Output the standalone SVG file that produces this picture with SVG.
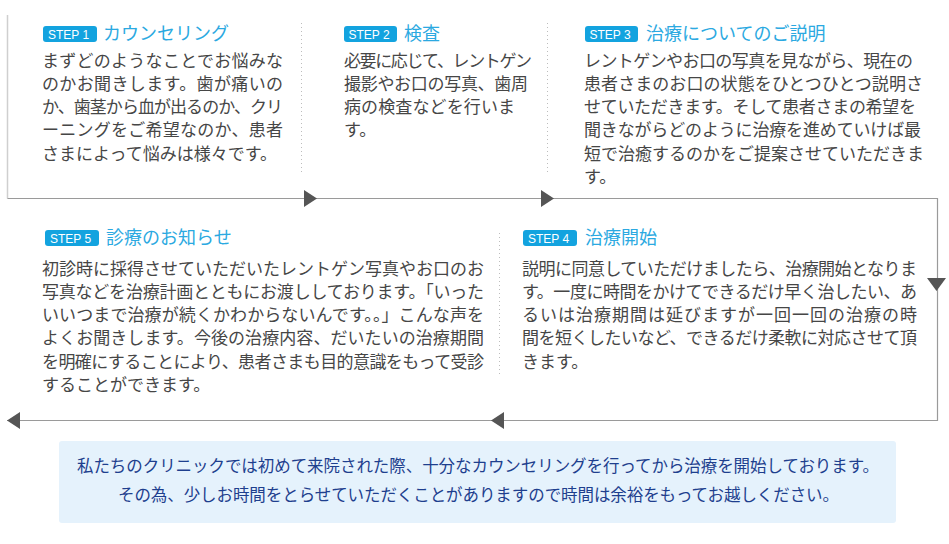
<svg xmlns="http://www.w3.org/2000/svg" width="949" height="544" viewBox="0 0 949 544">
<style>
.body{font-family:"Noto Sans CJK JP","Noto Sans CJK SC",sans-serif;font-size:17px;fill:#464646}
.title{font-family:"Noto Sans CJK JP","Noto Sans CJK SC",sans-serif;font-size:18px;fill:#2ba9e1}
.badge{fill:#13a3df}
.badgetxt{font-family:"Liberation Sans","Noto Sans",sans-serif;font-size:12px;fill:#fff}
.sep{stroke:#bdbdbd;stroke-width:1;stroke-dasharray:1 3;fill:none}
.line{stroke:#9a9a9a;stroke-width:1.2;fill:none}
.line2{stroke:#cfcfcf;stroke-width:1.5;fill:none}
.arr{fill:#555}
.foot{font-family:"Noto Sans CJK JP","Noto Sans CJK SC",sans-serif;font-size:16.5px;fill:#1e3f8e}
</style>
<rect width="949" height="544" fill="#fff"/>
<g id="connectors">
<path class="line2" d="M7.5,15 V198.5"/>
<path class="line" d="M7.5,198.5 H937.5 V420.5 H7"/>
<polygon class="arr" points="304,190 304,207 317,198.5"/>
<polygon class="arr" points="541,190 541,207 554,198.5"/>
<polygon class="arr" points="927,278 946,278 936.5,291"/>
<polygon class="arr" points="504,412 504,429 491,420.5"/>
<polygon class="arr" points="20,412 20,429 7,420.5"/>
<path class="sep" d="M301.5,23 V172 M547.5,23 V172 M499.5,233 V375"/>
</g>
<g id="step1">
<rect class="badge" x="43" y="26" width="54" height="16" rx="3"/>
<text class="badgetxt" x="48" y="38.5">STEP 1</text>
<text class="title" x="103" y="40">カウンセリング</text>
<text class="body" x="42" y="66.5" textLength="241" lengthAdjust="spacing">まずどのようなことでお悩みな</text>
<text class="body" x="42" y="89.8" textLength="241" lengthAdjust="spacing">のかお聞きします。歯が痛いの</text>
<text class="body" x="42" y="113.1" textLength="241" lengthAdjust="spacing">か、歯茎から血が出るのか、クリ</text>
<text class="body" x="42" y="136.4" textLength="241" lengthAdjust="spacing">ーニングをご希望なのか、患者</text>
<text class="body" x="42" y="159.7">さまによって悩みは様々です。</text>
</g>
<g id="step2">
<rect class="badge" x="344" y="26" width="53" height="16" rx="3"/>
<text class="badgetxt" x="348.5" y="38.5">STEP 2</text>
<text class="title" x="404" y="40">検査</text>
<text class="body" x="344" y="66.5" textLength="188" lengthAdjust="spacing">必要に応じて、レントゲン</text>
<text class="body" x="344" y="89.8" textLength="184" lengthAdjust="spacing">撮影やお口の写真、歯周</text>
<text class="body" x="344" y="113.1" textLength="171" lengthAdjust="spacing">病の検査などを行いま</text>
<text class="body" x="344" y="136.4">す。</text>
</g>
<g id="step3">
<rect class="badge" x="585" y="26" width="53" height="16" rx="3"/>
<text class="badgetxt" x="589.5" y="38.5">STEP 3</text>
<text class="title" x="646" y="40">治療についてのご説明</text>
<text class="body" x="584" y="66.5" textLength="329" lengthAdjust="spacing">レントゲンやお口の写真を見ながら、現在の</text>
<text class="body" x="584" y="89.8" textLength="339" lengthAdjust="spacing">患者さまのお口の状態をひとつひとつ説明さ</text>
<text class="body" x="584" y="113.1" textLength="332" lengthAdjust="spacing">せていただきます。そして患者さまの希望を</text>
<text class="body" x="584" y="136.4" textLength="337" lengthAdjust="spacing">聞きながらどのように治療を進めていけば最</text>
<text class="body" x="584" y="159.7" textLength="340" lengthAdjust="spacing">短で治癒するのかをご提案させていただきま</text>
<text class="body" x="584" y="183">す。</text>
</g>
<g id="step4">
<rect class="badge" x="523" y="230" width="54" height="16" rx="3"/>
<text class="badgetxt" x="528" y="242.5">STEP 4</text>
<text class="title" x="585" y="244">治療開始</text>
<text class="body" x="522" y="274.5" textLength="395" lengthAdjust="spacing">説明に同意していただけましたら、治療開始となりま</text>
<text class="body" x="522" y="297.8" textLength="395" lengthAdjust="spacing">す。一度に時間をかけてできるだけ早く治したい、あ</text>
<text class="body" x="522" y="321.1" textLength="395" lengthAdjust="spacing">るいは治療期間は延びますが一回一回の治療の時</text>
<text class="body" x="522" y="344.4" textLength="395" lengthAdjust="spacing">間を短くしたいなど、できるだけ柔軟に対応させて頂</text>
<text class="body" x="522" y="367.7">きます。</text>
</g>
<g id="step5">
<rect class="badge" x="45" y="230" width="54" height="16" rx="3"/>
<text class="badgetxt" x="50" y="242.5">STEP 5</text>
<text class="title" x="106" y="244">診療のお知らせ</text>
<text class="body" x="42" y="274.5" textLength="442" lengthAdjust="spacing">初診時に採得させていただいたレントゲン写真やお口のお</text>
<text class="body" x="42" y="297.8" textLength="442" lengthAdjust="spacing">写真などを治療計画とともにお渡ししております。「いった</text>
<text class="body" x="42" y="321.1" textLength="442" lengthAdjust="spacing">いいつまで治療が続くかわからないんです。。」こんな声を</text>
<text class="body" x="42" y="344.4" textLength="442" lengthAdjust="spacing">よくお聞きします。今後の治療内容、だいたいの治療期間</text>
<text class="body" x="42" y="367.7" textLength="442" lengthAdjust="spacing">を明確にすることにより、患者さまも目的意識をもって受診</text>
<text class="body" x="42" y="391">することができます。</text>
</g>
<g id="note">
<rect x="59" y="441" width="837" height="82" rx="3" fill="#e5f2fc"/>
<text class="foot" x="77" y="472" textLength="802" lengthAdjust="spacing">私たちのクリニックでは初めて来院された際、十分なカウンセリングを行ってから治療を開始しております。</text>
<text class="foot" x="118" y="501" textLength="721" lengthAdjust="spacing">その為、少しお時間をとらせていただくことがありますので時間は余裕をもってお越しください。</text>
</g>
</svg>
